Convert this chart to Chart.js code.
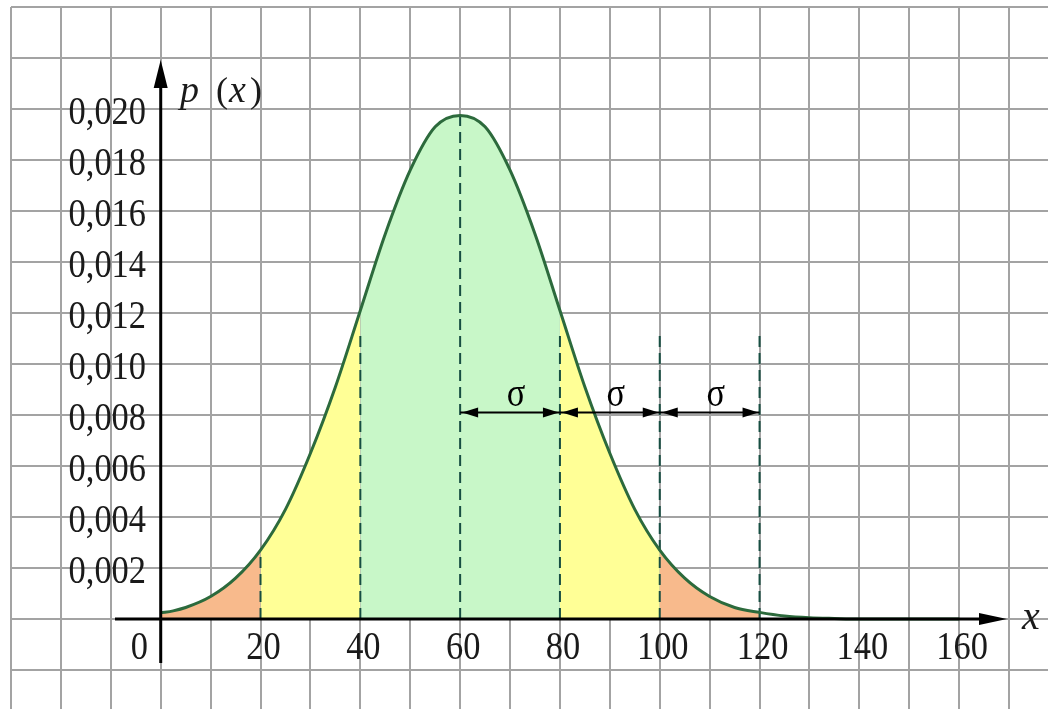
<!DOCTYPE html>
<html>
<head>
<meta charset="utf-8">
<script src="https://cdn.jsdelivr.net/npm/chart.js@4.4.1/dist/chart.umd.min.js"></script>
<style>
  html, body { margin: 0; padding: 0; background: #fff; }
  #wrap { width: 1048px; height: 709px; }
</style>
</head>
<body>
<div id="wrap"><canvas id="c" width="1048" height="709"></canvas></div>
<script>
// ---- data ----
const curveX = [0, 2.5, 5, 10, 15, 20, 25, 30, 35, 40, 45, 50, 55, 60, 65, 70, 75, 80, 85, 90, 95, 100, 105, 110, 115, 120, 125, 130, 135, 140, 150, 160];
const curveY = [0.00024, 0.00032, 0.00045, 0.00088, 0.0016, 0.0027, 0.0043, 0.0065, 0.0091, 0.0121, 0.0151, 0.0176, 0.0193, 0.01975,
                0.0193, 0.0176, 0.0151, 0.0121, 0.0091, 0.0065, 0.0043, 0.0027, 0.0016, 0.00088, 0.00045, 0.00026, 0.00012, 0.00005, 0.00002, 0.0, 0.0, 0.0];

const xTickValues = [20, 40, 60, 80, 100, 120, 140, 160];
const xTickLabels = ['20', '40', '60', '80', '100', '120', '140', '160'];
const yTickValues = [0.002, 0.004, 0.006, 0.008, 0.010, 0.012, 0.014, 0.016, 0.018, 0.020];
const yTickLabels = ['0,002', '0,004', '0,006', '0,008', '0,010', '0,012', '0,014', '0,016', '0,018', '0,020'];
const originLabel = '0';

const xGridValues = [-30, -20, -10, 0, 10, 20, 30, 40, 50, 60, 70, 80, 90, 100, 110, 120, 130, 140, 150, 160, 170];
const yGridValues = [-0.002, 0, 0.002, 0.004, 0.006, 0.008, 0.010, 0.012, 0.014, 0.016, 0.018, 0.020, 0.022, 0.024];

// shaded bands under the curve
const bandFrom   = [0, 20, 40, 80, 100];
const bandTo     = [20, 40, 80, 100, 120];
const bandColors = ['#f8ba8c', '#ffff96', '#c8f7c8', '#ffff96', '#f8ba8c'];

// vertical dashed guides
const guideX   = [20, 40, 60, 80, 100, 120];
const guideTop = [0.0027, 0.0113, 0.0197, 0.0113, 0.0113, 0.0113];

// sigma arrows
const sigmaStarts = [60, 80, 100];
const sigmaStep = 20;
const sigmaLevel = 0.0081;
const sigmaText = 'σ';

const SERIF = '"Liberation Serif", "Times New Roman", serif';

// ---- datasets ----
const curvePts = curveX.map((x, i) => ({ x, y: curveY[i] }));

const bandSets = bandFrom.map((a, i) => ({
  data: curvePts.filter(p => p.x >= a && p.x <= bandTo[i]),
  backgroundColor: bandColors[i],
  borderWidth: 0,
  borderColor: 'rgba(0,0,0,0)',
  fill: 'origin',
  pointRadius: 0,
  cubicInterpolationMode: 'monotone',
  order: 3,
}));

const guideSets = guideX.map((x, i) => ({
  data: [{ x, y: 0 }, { x, y: guideTop[i] }],
  borderColor: '#174e42',
  borderWidth: 2,
  borderDash: [11, 6],
  fill: false,
  pointRadius: 0,
  order: 2,
}));

const curveSet = {
  data: curvePts,
  borderColor: '#2c6a3c',
  borderWidth: 3,
  fill: false,
  pointRadius: 0,
  cubicInterpolationMode: 'monotone',
  order: 1,
};

// narrow serif text, like the reference's tall digits
function condensedText(ctx, txt, x, y, align) {
  ctx.save();
  ctx.translate(x, y);
  ctx.scale(0.86, 1);
  ctx.textAlign = align;
  ctx.fillText(txt, 0, 0);
  ctx.restore();
}

// axes, arrows and text drawn on top using the chart scales
const overlay = {
  id: 'overlay',
  afterDatasetsDraw(chart) {
    const { ctx, scales: { x, y } } = chart;
    const X = v => x.getPixelForValue(v);
    const Y = v => y.getPixelForValue(v);
    const y0 = Y(0), x0 = X(0);

    ctx.save();
    ctx.fillStyle = '#000';
    ctx.strokeStyle = '#000';

    // x axis
    ctx.lineWidth = 3;
    ctx.beginPath();
    ctx.moveTo(115, y0);
    ctx.lineTo(985, y0);
    ctx.stroke();
    ctx.beginPath();
    ctx.moveTo(1007, y0);
    ctx.lineTo(979, y0 - 6);
    ctx.lineTo(979, y0 + 6);
    ctx.closePath();
    ctx.fill();

    // y axis
    ctx.beginPath();
    ctx.moveTo(x0, 663);
    ctx.lineTo(x0, 84);
    ctx.stroke();
    ctx.beginPath();
    ctx.moveTo(x0, 60);
    ctx.lineTo(x0 - 7, 88);
    ctx.lineTo(x0 + 7, 88);
    ctx.closePath();
    ctx.fill();

    // sigma arrows
    const sy = Y(sigmaLevel);
    ctx.lineWidth = 2;
    ctx.beginPath();
    ctx.moveTo(X(sigmaStarts[0]), sy);
    ctx.lineTo(X(sigmaStarts[sigmaStarts.length - 1] + sigmaStep), sy);
    ctx.stroke();
    const head = (tip, dir) => {
      ctx.beginPath();
      ctx.moveTo(tip, sy);
      ctx.lineTo(tip + dir * 16, sy - 5);
      ctx.lineTo(tip + dir * 16, sy + 5);
      ctx.closePath();
      ctx.fill();
    };
    ctx.font = '40px ' + SERIF;
    ctx.textBaseline = 'alphabetic';
    sigmaStarts.forEach(s => {
      head(X(s) + 2, 1);
      head(X(s + sigmaStep) - 1, -1);
      condensedText(ctx, sigmaText, (X(s) + X(s + sigmaStep)) / 2 + 6, sy - 6, 'center');
    });

    // tick labels
    ctx.fillStyle = '#1a1a1a';
    ctx.font = '40px ' + SERIF;
    xTickValues.forEach((v, i) => condensedText(ctx, xTickLabels[i], X(v) + 3, y0 + 40, 'center'));
    yTickValues.forEach((v, i) => condensedText(ctx, yTickLabels[i], 146, Y(v) + 15, 'right'));
    condensedText(ctx, originLabel, 148, y0 + 40, 'right');

    // axis titles
    ctx.textAlign = 'left';
    ctx.font = 'italic 38px ' + SERIF;
    ctx.fillText('p', 180, 102);
    ctx.font = '36px ' + SERIF;
    ctx.fillText('(', 216, 102);
    ctx.font = 'italic 38px ' + SERIF;
    ctx.fillText('x', 229, 102);
    ctx.font = '36px ' + SERIF;
    ctx.fillText(')', 250, 102);
    ctx.font = 'italic 40px ' + SERIF;
    ctx.fillText('x', 1022, y0 + 10);

    ctx.restore();
  }
};

new Chart(document.getElementById('c'), {
  type: 'line',
  data: { datasets: [curveSet, ...guideSets, ...bandSets] },
  options: {
    responsive: false,
    animation: false,
    layout: { padding: { left: 11, top: 7, right: 0, bottom: 0 } },
    plugins: { legend: { display: false }, tooltip: { enabled: false } },
    scales: {
      x: {
        type: 'linear',
        min: -30,
        max: 177.8,
        afterBuildTicks: s => { s.ticks = xGridValues.map(v => ({ value: v })); },
        ticks: { display: false },
        border: { display: false },
        grid: { color: '#a3a3a3', lineWidth: 2, drawTicks: false },
      },
      y: {
        type: 'linear',
        min: -0.003529,
        max: 0.024,
        afterBuildTicks: s => { s.ticks = yGridValues.map(v => ({ value: v })); },
        ticks: { display: false },
        border: { display: false },
        grid: { color: '#a3a3a3', lineWidth: 2, drawTicks: false },
      },
    },
  },
  plugins: [overlay],
});
</script>
</body>
</html>
